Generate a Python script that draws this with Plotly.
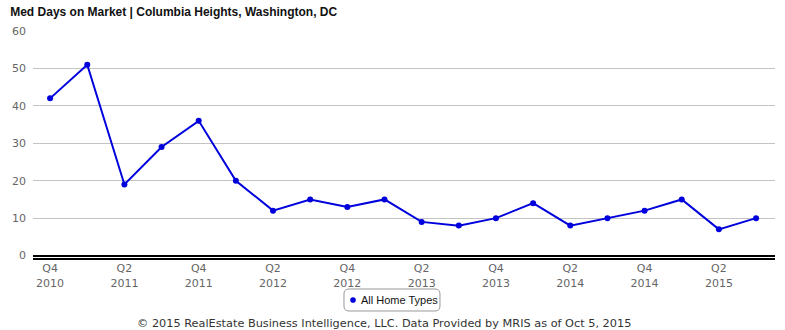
import plotly.graph_objects as go

quarters = [
    "Q4<br>2010", "Q1<br>2011", "Q2<br>2011", "Q3<br>2011", "Q4<br>2011",
    "Q1<br>2012", "Q2<br>2012", "Q3<br>2012", "Q4<br>2012", "Q1<br>2013",
    "Q2<br>2013", "Q3<br>2013", "Q4<br>2013", "Q1<br>2014", "Q2<br>2014",
    "Q3<br>2014", "Q4<br>2014", "Q1<br>2015", "Q2<br>2015", "Q3<br>2015",
]
median_days = [42, 51, 19, 29, 36, 20, 12, 15, 13, 15, 9, 8, 10, 14, 8, 10, 12, 15, 7, 10]
y_ticks = [0, 10, 20, 30, 40, 50, 60]

series_name = "All Home Types"
line_color = "#0000dd"
idx = list(range(len(quarters)))

fig = go.Figure()
fig.add_trace(go.Scatter(
    x=idx, y=median_days, mode="lines+markers",
    line=dict(color=line_color, width=2),
    marker=dict(color=line_color, size=6),
    name=series_name, showlegend=False,
    hovertemplate="%{y}<extra></extra>",
))

# compact legend drawn below the plot: rounded frame, dot, label
legend_x, legend_y = 0.4838, -0.185
frame = ("M -43,-11 L 43,-11 Q 48,-11 48,-6 L 48,6 Q 48,11 43,11 "
         "L -43,11 Q -48,11 -48,6 L -48,-6 Q -48,-11 -43,-11 Z")
shapes = [
    dict(type="path", xref="paper", yref="paper", xsizemode="pixel", ysizemode="pixel",
         xanchor=legend_x, yanchor=legend_y, path=frame,
         line=dict(color="#999999", width=1), fillcolor="white"),
    dict(type="circle", xref="paper", yref="paper", xsizemode="pixel", ysizemode="pixel",
         xanchor=0.4313, yanchor=legend_y, x0=-2.8, x1=2.8, y0=-2.8, y1=2.8,
         line=dict(color=line_color, width=0), fillcolor=line_color),
]

fig.update_layout(
    width=785, height=330,
    margin=dict(l=33, r=10, t=31, b=72),
    paper_bgcolor="white", plot_bgcolor="white",
    showlegend=False,
    title=dict(
        text="<b>Med Days on Market | Columbia Heights, Washington, DC</b>",
        x=0.013, xanchor="left", y=0.965, yanchor="middle",
        font=dict(family="Liberation Sans, Arial, sans-serif", size=12, color="#111111"),
    ),
    xaxis=dict(
        range=[-0.46, 19.51],
        tickvals=idx[::2], ticktext=quarters[::2],
        showgrid=False, zeroline=False,
        showline=True, linecolor="black", linewidth=2,
        ticks="", tickfont=dict(family="DejaVu Sans, sans-serif", size=11, color="#666666"),
        ticklabelstandoff=-1,
        fixedrange=True,
    ),
    yaxis=dict(
        range=[-0.65, 60], tickvals=y_ticks,
        showgrid=True, gridcolor="#c4c4c4", gridwidth=1,
        zeroline=True, zerolinecolor="black", zerolinewidth=2,
        showline=False, ticks="",
        tickfont=dict(family="DejaVu Sans, sans-serif", size=11, color="#666666"),
        ticklabelstandoff=6,
        fixedrange=True,
    ),
    shapes=shapes,
    annotations=[
        dict(text=series_name, xref="paper", yref="paper", x=0.4394, y=legend_y,
             xanchor="left", yanchor="middle", showarrow=False,
             font=dict(family="Liberation Sans, Arial, sans-serif", size=11, color="#111111")),
        dict(text="© 2015 RealEstate Business Intelligence, LLC. Data Provided by MRIS as of Oct 5, 2015",
             xref="paper", yref="paper", x=0.4724, y=-0.288, xanchor="center", yanchor="middle",
             showarrow=False,
             font=dict(family="DejaVu Sans, sans-serif", size=11.3, color="#333333")),
    ],
)

fig.write_html("out.html")
